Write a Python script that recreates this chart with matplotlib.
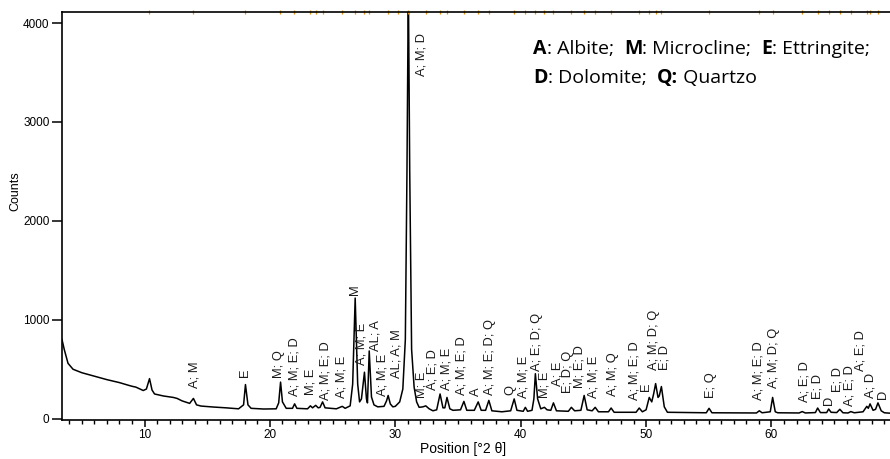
import matplotlib.pyplot as plt
from matplotlib.ticker import MultipleLocator

plt.rcParams["font.family"] = ["Liberation Sans", "DejaVu Sans"]

# diffractogram: position (°2θ) and counts
TWO_THETA = [
    3.42, 3.6, 3.9, 4.3, 5.0, 6.0, 7.0, 8.0, 8.8, 9.1, 9.3, 9.9, 10.15, 10.4,
    10.6, 10.8, 11.5, 12.3, 12.6, 13.0, 13.6, 13.9, 14.15, 14.5, 15.5, 16.5,
    17.5, 17.9, 18.05, 18.25, 18.5, 19.5, 20.5, 20.7, 20.85, 21.0, 21.3, 21.8,
    21.97, 22.15, 23.0, 23.23, 23.4, 23.65, 23.85, 24.0, 24.2, 24.4, 25.3,
    25.77, 26.0, 26.4, 26.6, 26.8, 27.0, 27.15, 27.3, 27.54, 27.7, 27.78,
    27.92, 28.1, 28.3, 28.6, 29.1, 29.3, 29.43, 29.6, 29.8, 30.0, 30.19,
    30.35, 30.6, 30.8, 30.93, 31.04, 31.15, 31.3, 31.5, 31.7, 31.9, 32.2,
    32.43, 32.7, 33.0, 33.3, 33.57, 33.8, 33.95, 34.12, 34.35, 34.6, 35.2,
    35.47, 35.7, 36.3, 36.61, 36.85, 37.2, 37.46, 37.7, 38.5, 39.2, 39.48,
    39.7, 40.2, 40.37, 40.55, 40.9, 41.05, 41.17, 41.35, 41.6, 41.89, 42.1,
    42.4, 42.61, 42.85, 43.8, 44.04, 44.3, 44.8, 45.06, 45.3, 45.7, 45.94,
    46.2, 47.0, 47.21, 47.45, 49.2, 49.45, 49.7, 50.0, 50.25, 50.45, 50.6,
    50.76, 50.95, 51.05, 51.22, 51.45, 51.7, 54.8, 55.02, 55.25, 58.8, 59.03,
    59.25, 59.9, 60.09, 60.3, 60.5, 62.2, 62.45, 62.7, 63.5, 63.68, 63.9,
    64.4, 64.56, 64.75, 65.2, 65.45, 65.7, 66.1, 66.33, 66.6, 67.3, 67.6,
    67.72, 67.86, 68.1, 68.3, 68.49, 68.75, 69.0, 69.53,
]
COUNTS = [
    800, 700, 560, 500, 465, 430, 395, 365, 335, 325, 320, 285, 300, 405,
    290, 250, 230, 215, 205, 180, 155, 205, 140, 128, 118, 110,
    100, 140, 345, 140, 105, 98, 100, 160, 370, 170, 105, 105,
    150, 105, 100, 130, 110, 135, 110, 115, 170, 110, 100,
    125, 105, 130, 350, 1220, 350, 170, 200, 470, 200, 160,
    685, 220, 140, 120, 125, 180, 235, 150, 120, 125, 150,
    170, 300, 800, 2500, 4400, 2500, 700, 320, 170, 115, 120,
    130, 100, 80, 90, 250, 110, 110, 215, 100, 85, 90,
    175, 85, 85, 170, 85, 85, 185, 80, 70, 80, 200,
    85, 75, 115, 75, 85, 200, 455, 200, 100, 115, 90,
    85, 160, 80, 75, 115, 80, 85, 235, 90, 80, 115,
    70, 70, 108, 65, 65, 108, 70, 90, 215, 170, 250,
    355, 215, 230, 325, 120, 65, 60, 105, 60, 58, 80,
    60, 70, 215, 70, 60, 58, 72, 58, 62, 108, 62,
    62, 98, 65, 62, 95, 60, 58, 72, 60, 70, 125,
    105, 150, 85, 95, 160, 80, 60, 55,
]

# reference pattern positions (orange ticks on the top frame)
REF_PEAKS = [
    10.35, 13.90, 18.04, 20.82, 21.96, 23.23, 23.65, 24.20, 25.77, 26.82,
    27.54, 27.92, 29.43, 30.19, 31.04, 32.43, 33.57, 34.12, 35.47, 36.61,
    37.46, 39.48, 40.37, 41.17, 41.89, 42.61, 44.04, 45.06, 45.94, 47.21,
    49.45, 50.25, 50.76, 51.22, 55.02, 59.03, 60.09, 62.45, 63.68, 64.56,
    65.45, 66.33, 67.60, 67.86, 68.49,
]

# phase labels: text, position (°2θ), counts at the foot of the label
LABEL_TEXT = [
    "A; M", "E", "M; Q", "A; M; E; D", "M; E", "A; M; E; D", "A; M; E", "M",
    "A; M; E", "AL; A", "A; M; E", "AL; A; M", "A; M; D", "M; E", "A; E; D",
    "A; M; E", "A; M; E; D", "A", "A; M; E; D; Q", "Q", "A; M; E",
    "A; E; D; Q", "M; E", "A; E", "E; D; Q", "M; E; D", "A; M; E", "A; M; Q",
    "A; M; E; D", "E", "A; M; D; Q", "E; D", "E; Q", "A; M; E; D",
    "A; M; D; Q", "A; E; D", "E; D", "D", "E; D", "A; E; D", "A; E; D",
    "A; D", "D",
]
LABEL_X = [
    14.0, 18.0, 20.7, 22.0, 23.2, 24.4, 25.7, 26.8,
    27.3, 28.4, 29.0, 30.1, 32.1, 32.1, 33.0,
    34.1, 35.3, 36.4, 37.55, 39.2, 40.2,
    41.3, 41.9, 42.9, 43.8, 44.7, 45.8, 47.4,
    49.1, 50.0, 50.6, 51.5, 55.2, 58.95,
    60.2, 62.6, 63.65, 64.6, 65.3, 66.25, 67.1,
    67.9, 68.9,
]
LABEL_Y = [
    310, 422, 412, 226, 243, 192, 209, 1254,
    545, 688, 226, 412, 3461, 209, 293,
    293, 243, 226, 243, 243, 209,
    478, 209, 327, 260, 310, 209, 226,
    192, 276, 495, 495, 209, 192,
    310, 172, 202, 142, 268, 124, 485,
    212, 202,
]

# key to the phase letters, split into (text, weight) runs
KEY_LINE_1 = [("A", "bold"), (": Albite;  ", "normal"),
              ("M", "bold"), (": Microcline;  ", "normal"),
              ("E", "bold"), (": Ettringite;", "normal")]
KEY_LINE_2 = [("D", "bold"), (": Dolomite;  ", "normal"),
              ("Q:", "bold"), (" Quartzo", "normal")]


def draw_runs(fig, x, y, runs):
    renderer = fig.canvas.get_renderer()
    for text, weight in runs:
        t = fig.text(x, y, text, family="Open Sans", fontsize=14,
                     fontweight=weight, va="baseline")
        bb = t.get_window_extent(renderer)
        x = fig.transFigure.inverted().transform((bb.x1, bb.y0))[0]


def run() -> None:
    fig = plt.figure(figsize=(8.9, 4.59), dpi=100)
    ax = fig.add_axes((62 / 890, 39.5 / 459, 829 / 890, 407.5 / 459))

    ax.plot(TWO_THETA, COUNTS, color="black", lw=1.1)
    ax.plot(REF_PEAKS, [1.0] * len(REF_PEAKS), ls="none", marker="|",
            ms=3, mew=0.9, color="#E8900C",
            transform=ax.get_xaxis_transform(), clip_on=False)

    for text, x, y in zip(LABEL_TEXT, LABEL_X, LABEL_Y):
        ax.text(x, y, text, rotation=90, ha="center", va="bottom",
                fontsize=9.3, color="#1a1a1a")

    ax.set_xlim(3.42, 69.53)
    ax.set_ylim(-8, 4112)
    ax.xaxis.set_major_locator(MultipleLocator(10))
    ax.xaxis.set_minor_locator(MultipleLocator(1))
    ax.yaxis.set_major_locator(MultipleLocator(1000))
    ax.tick_params(axis="x", which="major", length=5, width=1.1,
                   labelsize=8.5, pad=2)
    ax.tick_params(axis="x", which="minor", length=3, width=1)
    ax.tick_params(axis="y", length=7, width=1.1, labelsize=8.5, pad=2)
    ax.spines["right"].set_visible(False)
    for side in ("left", "bottom", "top"):
        ax.spines[side].set_linewidth(1.2)

    ax.set_xlabel("Position [°2 θ]", fontsize=10)
    ax.xaxis.set_label_coords(0.484, -0.055)
    ax.set_ylabel("Counts", fontsize=9)
    ax.yaxis.set_label_coords(-0.049, 0.56)

    draw_runs(fig, 533 / 890, 1 - 54.3 / 459, KEY_LINE_1)
    draw_runs(fig, 533 / 890, 1 - 82.7 / 459, KEY_LINE_2)

    fig.savefig("out.png", dpi=100)
    plt.close(fig)


if __name__ == "__main__":
    run()
